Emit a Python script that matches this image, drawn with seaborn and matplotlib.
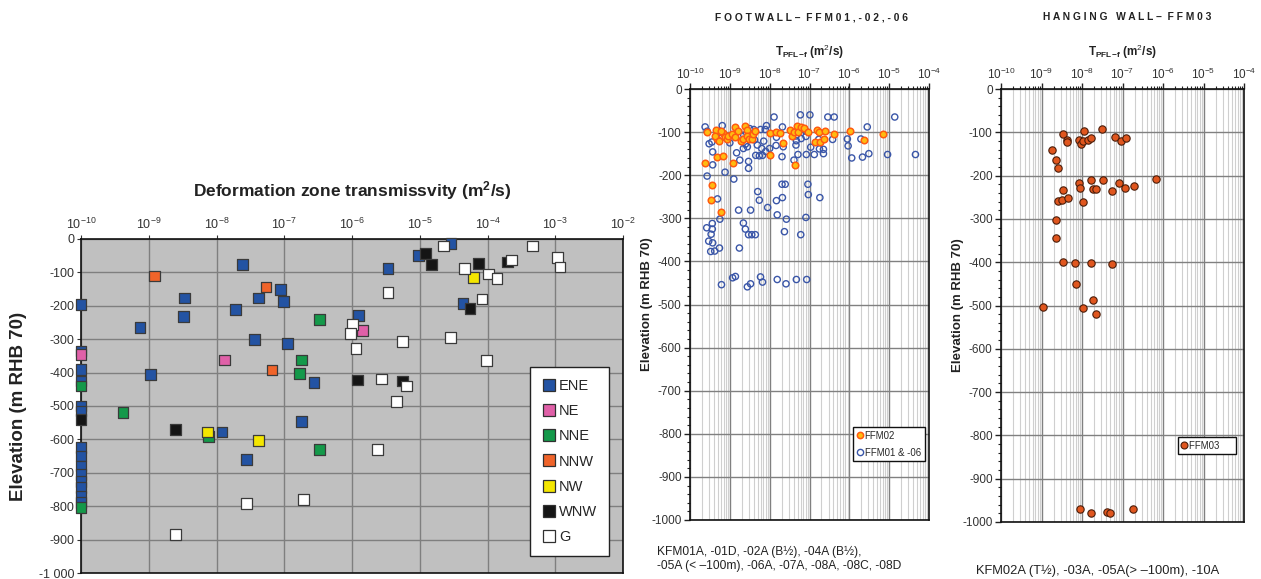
import numpy as np
import pandas as pd
import matplotlib
matplotlib.use("Agg")
import matplotlib.pyplot as plt
import seaborn as sns
from matplotlib import font_manager
from matplotlib.ticker import LogLocator, FuncFormatter, NullLocator, MultipleLocator
from matplotlib.lines import Line2D

# ---------------- Panel 1 data: deformation zones (log10 T, elevation) ----------------
zone_order = ["ENE", "NE", "NNE", "NNW", "NW", "WNW", "G"]
zone_colors = ["#2353a3", "#e060a8", "#14994a", "#f0642a", "#f4e600", "#151515", "#ffffff"]

ene_logT = [-10, -10, -10, -10, -10, -10, -10, -10, -10, -10, -10, -10, -10, -10,
            -7.62, -8.47, -8.49, -7.72, -9.13, -7.44, -7.38, -7.06, -7.01, -6.95, -6.56,
            -8.97, -7.92, -7.56, -6.74, -5.47, -5.90, -5.02, -4.54, -4.36]
ene_elev = [-195, -335, -390, -425, -500, -515, -625, -650, -680, -705, -725, -745, -770, -790,
            -77, -177, -232, -212, -265, -300, -177, -152, -186, -312, -430,
            -405, -578, -660, -547, -88, -229, -50, -14, -194]
ne_logT = [-10, -7.88, -5.84]
ne_elev = [-345, -362, -274]
nne_logT = [-10, -10, -6.48, -6.75, -6.77, -9.38, -8.12, -6.48]
nne_elev = [-440, -805, -242, -362, -402, -520, -592, -630]
nnw_logT = [-8.92, -7.27, -7.18]
nnw_elev = [-111, -144, -392]
nw_logT = [-8.13, -7.38, -4.21]
nw_elev = [-578, -604, -115]
wnw_logT = [-10, -8.60, -5.92, -5.26, -4.92, -4.83, -4.13, -4.26, -3.71]
wnw_elev = [-540, -570, -422, -425, -44, -77, -73, -207, -69]
g_logT = [-7.56, -6.72, -8.60, -5.47, -5.99, -6.02, -5.94, -5.26, -4.55, -4.02, -5.56,
          -5.19, -5.34, -5.62, -4.65, -4.34, -3.98, -3.86, -4.08, -3.65, -3.34, -2.97, -2.93]
g_elev = [-792, -780, -884, -160, -257, -284, -327, -307, -295, -363, -419,
          -440, -486, -630, -21, -88, -105, -119, -180, -63, -21, -55, -84]

# ---------------- Panel 2 data: footwall (log10 T, elevation) ----------------
ffm01_logT = [-7.89, -7.23, -6.99, -6.54, -6.38, -4.86, -9.62, -9.57, -9.19, -9.25, -8.71, -8.08,
              -8.11, -7.68, -8.40, -8.23, -7.09, -7.30, -5.55, -5.71, -6.05, -6.03, -5.94, -5.67,
              -5.51, -5.04, -4.34, -6.65, -6.65, -6.42, -6.77, -7.09, -7.08, -7.34, -7.34, -7.29,
              -7.39, -7.33, -6.97, -6.88, -6.75, -7.21, -9.52, -9.45, -9.43, -9.43, -9.57, -9.12,
              -9.00, -8.90, -8.83, -8.75, -8.65, -8.66, -8.61, -8.56, -8.53, -8.53, -8.50, -8.38,
              -8.35, -8.31, -8.26, -8.20, -8.18, -8.15, -8.10, -8.00, -7.84, -7.83, -7.69, -7.66,
              -7.69, -7.61, -7.68, -7.83, -8.30, -8.26, -8.05, -8.78, -8.48, -8.66, -8.61, -8.53,
              -8.45, -8.36, -8.76, -7.81, -7.58, -7.63, -7.22, -7.09, -7.04, -7.03, -6.74, -9.31,
              -9.25, -9.58, -9.44, -9.44, -9.47, -9.53, -9.43, -9.48, -9.38, -9.26, -9.21, -8.93,
              -8.86, -8.56, -8.48, -8.23, -8.18, -7.81, -7.59, -7.33, -7.07]
ffm01_elev = [-65, -60, -60, -65, -65, -65, -88, -98, -85, -100, -109, -85,
              -94, -88, -94, -94, -98, -96, -88, -116, -116, -132, -160, -158,
              -150, -152, -152, -150, -140, -117, -117, -110, -152, -109, -130, -152,
              -165, -120, -135, -152, -139, -115, -127, -123, -146, -176, -202, -193,
              -125, -209, -148, -165, -107, -138, -128, -134, -168, -184, -92, -118,
              -154, -130, -155, -138, -154, -121, -145, -138, -131, -112, -157, -134,
              -221, -221, -252, -259, -238, -258, -275, -281, -281, -311, -325, -338,
              -338, -338, -369, -292, -302, -331, -338, -298, -221, -245, -252, -255,
              -302, -322, -312, -325, -337, -353, -357, -377, -376, -369, -454, -438,
              -435, -459, -452, -436, -448, -442, -452, -442, -442]
ffm02_logT = [-9.62, -9.58, -9.35, -9.33, -9.33, -9.45, -9.47, -9.21, -9.37, -9.26, -9.18, -9.16,
              -9.23, -9.11, -9.06, -9.04, -8.95, -8.93, -8.88, -8.86, -8.79, -8.71, -8.66, -8.63,
              -8.58, -8.56, -8.53, -8.45, -8.41, -8.00, -8.00, -7.84, -7.74, -7.66, -7.48, -7.45,
              -7.38, -7.36, -7.31, -7.28, -7.21, -7.13, -7.04, -6.86, -6.81, -6.76, -6.74, -6.64,
              -6.61, -6.38, -5.99, -5.63, -5.15, -8.38]
ffm02_elev = [-171, -99, -94, -117, -157, -222, -258, -286, -108, -121, -103, -155,
              -98, -111, -117, -109, -104, -171, -89, -111, -98, -121, -117, -86,
              -96, -109, -117, -117, -105, -102, -154, -99, -102, -125, -96, -109,
              -100, -176, -86, -99, -88, -91, -100, -123, -95, -100, -123, -117,
              -98, -105, -98, -118, -105, -98]

# ---------------- Panel 3 data: hanging wall ----------------
ffm03_logT = [-7.50, -7.96, -8.46, -8.37, -8.36, -8.08, -8.03, -7.98, -7.85, -7.78, -7.19, -7.03,
              -6.91, -8.74, -8.64, -8.60, -8.08, -8.05, -7.78, -7.47, -7.72, -7.65, -7.26, -7.08,
              -6.95, -6.72, -6.18, -8.47, -8.60, -8.49, -8.34, -7.98, -8.64, -8.64, -8.46, -8.17,
              -7.79, -7.27, -8.16, -7.72, -8.97, -7.98, -7.65, -8.05, -7.77, -7.39, -7.32, -6.75]
ffm03_elev = [-93, -96, -104, -117, -122, -117, -127, -120, -117, -114, -111, -120,
              -113, -140, -163, -182, -216, -228, -211, -211, -231, -231, -236, -218,
              -228, -223, -208, -234, -259, -257, -252, -260, -303, -343, -400, -401,
              -401, -405, -450, -488, -503, -505, -520, -971, -979, -976, -979, -971]

# ---------------- build data frames ----------------
parts = []
for name, lt, el in [("ENE", ene_logT, ene_elev), ("NE", ne_logT, ne_elev), ("NNE", nne_logT, nne_elev),
                     ("NNW", nnw_logT, nnw_elev), ("NW", nw_logT, nw_elev), ("WNW", wnw_logT, wnw_elev),
                     ("G", g_logT, g_elev)]:
    parts.append(pd.DataFrame({"T": 10.0 ** np.array(lt), "elev": el, "zone": name}))
dz = pd.concat(parts, ignore_index=True)

sns.set_style("ticks")
plt.rcParams["font.family"] = ["Liberation Sans", "DejaVu Sans"]
plt.rcParams["axes.unicode_minus"] = False
plt.rcParams["mathtext.fontset"] = "custom"
plt.rcParams["mathtext.rm"] = "Liberation Sans"
plt.rcParams["mathtext.it"] = "Liberation Sans:italic"
plt.rcParams["mathtext.bf"] = "Liberation Sans:bold"

installed = {f.name for f in font_manager.fontManager.ttflist}
HAS_NARROW = "Liberation Sans Narrow" in installed
NARROW = ["Liberation Sans Narrow", "DejaVu Sans"] if HAS_NARROW else ["Liberation Sans", "DejaVu Sans"]
nscale = 1.0 if HAS_NARROW else 0.82

W, H = 1261, 579
fig = plt.figure(figsize=(W / 100, H / 100), dpi=100)


def frac(left, top, right, bottom):
    return [left / W, 1 - bottom / H, (right - left) / W, (bottom - top) / H]


def hyphen_fmt(v, pos):
    return "%d" % int(round(v))


# ================= Panel 1 =================
ax1 = fig.add_axes(frac(81, 239, 623, 573))
ax1.set_facecolor("#c0c0c0")
ax1.set_xscale("log")
ax1.set_xlim(1e-10, 1e-2)
ax1.set_ylim(-1000, 0)
ax1.set_axisbelow(True)
ax1.grid(True, which="major", color="#7f7f7f", lw=1.0)
sns.scatterplot(data=dz, x="T", y="elev", hue="zone", hue_order=zone_order,
                palette=zone_colors, marker="s", s=60, edgecolor="#3a3a3a", linewidth=0.9,
                legend=False, ax=ax1, clip_on=False, zorder=3)
ax1.xaxis.tick_top()
ax1.xaxis.set_label_position("top")
ax1.xaxis.set_major_locator(LogLocator(base=10, numticks=20))
ax1.xaxis.set_minor_locator(NullLocator())
ax1.yaxis.set_major_locator(MultipleLocator(100))
ax1.yaxis.set_major_formatter(FuncFormatter(lambda v, p: "-1 000" if int(round(v)) == -1000 else hyphen_fmt(v, p)))
ax1.tick_params(axis="both", labelsize=9, color="#333333", length=3, pad=2, labelcolor="#333333")
ax1.set_xlabel("Deformation zone transmissvity (m$^\\mathbf{2}$/s)", fontsize=12.5, fontweight="bold",
               labelpad=15, color="#222222")
ax1.set_ylabel("Elevation (m RHB 70)", fontsize=13.5, fontweight="bold", labelpad=8, color="#222222")
for s in ax1.spines.values():
    s.set_color("#111111")
    s.set_linewidth(1.2)
handles = [Line2D([], [], ls="", marker="s", markersize=9, markerfacecolor=c,
                  markeredgecolor="#303030", markeredgewidth=0.9) for c in zone_colors]
leg = ax1.legend(handles, zone_order, loc="upper left", bbox_to_anchor=(0.828, 0.617),
                 fontsize=10.5, labelspacing=0.76, handletextpad=0.25, handlelength=0.9,
                 borderpad=0.85, fancybox=False, framealpha=1, edgecolor="#222222",
                 borderaxespad=0)
leg.get_frame().set_linewidth(1.0)

# ================= Panels 2 and 3 common =================


def style_log_panel(ax):
    ax.set_xscale("log")
    ax.set_xlim(1e-10, 1e-4)
    ax.set_ylim(-1000, 0)
    ax.set_facecolor("white")
    ax.set_axisbelow(True)
    ax.xaxis.set_major_locator(LogLocator(base=10, numticks=20))
    ax.xaxis.set_minor_locator(LogLocator(base=10, subs=np.arange(2, 10), numticks=20))
    ax.yaxis.set_major_locator(MultipleLocator(100))
    ax.yaxis.set_minor_locator(MultipleLocator(20))
    ax.yaxis.set_major_formatter(FuncFormatter(hyphen_fmt))
    ax.grid(True, which="minor", axis="x", color="#cfcfcf", lw=0.8)
    ax.grid(True, which="major", color="#808080", lw=1.0)
    ax.xaxis.tick_top()
    ax.xaxis.set_label_position("top")
    ax.tick_params(axis="both", which="major", labelsize=8.5, length=4, width=1, pad=2,
                   color="#222222", labelcolor="#333333")
    ax.tick_params(axis="both", which="minor", length=2.5, width=0.8, color="#222222")
    ax.tick_params(axis="x", which="major", pad=1)
    for s in ax.spines.values():
        s.set_color("#111111")
        s.set_linewidth(1.2)
    ax.set_xlabel("T$_{\\mathregular{PFL\\!-\\!f}}$ (m$^2$/s)", fontsize=8.5, fontweight="bold",
                  labelpad=8, color="#222222")
    ax.set_ylabel("Elevation (m RHB 70)", fontsize=9.5, fontweight="bold", labelpad=-1, color="#222222")


# ================= Panel 2 =================
ax2 = fig.add_axes(frac(690, 89, 929, 520))
style_log_panel(ax2)
sns.scatterplot(x=10.0 ** np.array(ffm01_logT), y=ffm01_elev, marker="o", s=20,
                facecolor="none", edgecolor="#3a56a8", linewidth=1.0, ax=ax2, zorder=3)
sns.scatterplot(x=10.0 ** np.array(ffm02_logT), y=ffm02_elev, marker="o", s=22,
                color="#ffbb10", edgecolor="#ff5a10", linewidth=1.1, ax=ax2, zorder=4)
h2 = [Line2D([], [], ls="", marker="o", markersize=4.5, markerfacecolor="#ffbb10",
             markeredgecolor="#ff5a10", markeredgewidth=1.1),
      Line2D([], [], ls="", marker="o", markersize=4.5, markerfacecolor="none",
             markeredgecolor="#3a56a8", markeredgewidth=1.0)]
leg_size = 8.5 * nscale
leg2 = ax2.legend(h2, ["FFM02", "FFM01 & -06"], loc="upper left", bbox_to_anchor=(0.682, 0.216),
                  prop={"family": NARROW, "size": leg_size},
                  fancybox=False, framealpha=1, edgecolor="#111111",
                  handlelength=0.6, handletextpad=0.2, borderpad=0.4, labelspacing=0.7, borderaxespad=0)
leg2.get_frame().set_linewidth(1.0)
fig.text(811 / W, 1 - 17 / H, "F O O T W A L L –  F F M 0 1 , - 0 2 , - 0 6", ha="center", va="center",
         fontsize=7.4, fontweight="bold", color="#222222")
fig.text(657 / W, 1 - 559 / H, "KFM01A, -01D, -02A (B½), -04A (B½),\n-05A (< –100m), -06A, -07A, -08A, -08C, -08D",
         ha="left", va="center", fontsize=10.5 * nscale, family=NARROW, color="#222222", linespacing=1.25)

# ================= Panel 3 =================
ax3 = fig.add_axes(frac(1001, 89, 1244, 522))
style_log_panel(ax3)
sns.scatterplot(x=10.0 ** np.array(ffm03_logT), y=ffm03_elev, marker="o", s=28,
                color="#e0561e", edgecolor="#4a1d0a", linewidth=0.8, ax=ax3, zorder=3)
h3 = [Line2D([], [], ls="", marker="o", markersize=5, markerfacecolor="#e0561e",
             markeredgecolor="#4a1d0a", markeredgewidth=0.8)]
leg3 = ax3.legend(h3, ["FFM03     "], loc="upper left", bbox_to_anchor=(0.728, 0.196),
                  prop={"family": NARROW, "size": leg_size},
                  fancybox=False, framealpha=1, edgecolor="#111111",
                  handlelength=0.6, handletextpad=0.2, borderpad=0.35, borderaxespad=0)
leg3.get_frame().set_linewidth(1.0)
fig.text(1127 / W, 1 - 17 / H, "H A N G I N G   W A L L –  F F M 0 3", ha="center", va="center",
         fontsize=7.4, fontweight="bold", color="#222222")
fig.text(976 / W, 1 - 571 / H, "KFM02A (T½), -03A, -05A(> –100m), -10A",
         ha="left", va="center", fontsize=11.3 * nscale, family=NARROW, color="#222222")

fig.savefig("out.png", dpi=100)
